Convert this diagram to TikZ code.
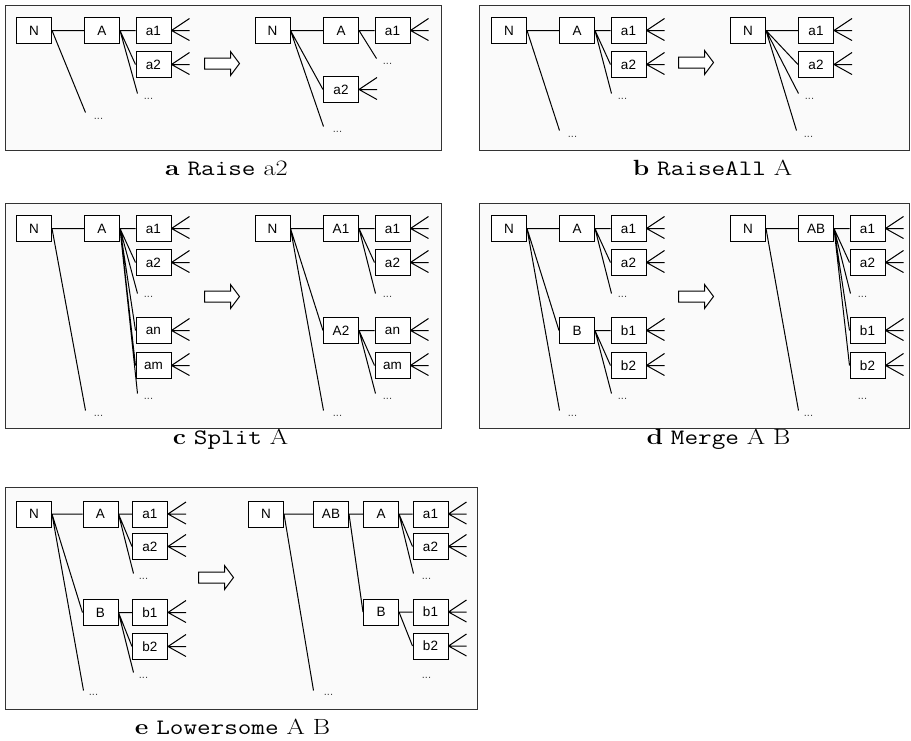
\documentclass[tikz,border=0pt]{standalone}
\usepackage{fontspec}
\newfontfamily\helv{Liberation Sans}
\tikzset{
  panel/.style={draw=black!80, line width=1.5pt, fill=black!2},
  tbox/.style={draw, line width=1pt, fill=white, minimum width=35pt,
    minimum height=26pt, inner sep=0pt, font=\helv\fontsize{13.5}{16}\selectfont},
  ln/.style={line width=1pt},
  dots/.style={font=\helv\fontsize{11}{12}\selectfont, text=black!75, inner sep=0pt},
  captext/.style={anchor=base, inner sep=0pt, font=\fontsize{22}{26}\selectfont},
  bigarrow/.pic={\draw[line width=1pt, fill=white]
    (0,-5.5) -- (26,-5.5) -- (26,-12) -- (35,0) -- (26,12) -- (26,5.5) -- (0,5.5) -- cycle;}
}
% three open edges leaving a box to the right
\newcommand\fanout[1]{\draw[ln] (#1.east) -- ++(18,-12) (#1.east) -- ++(18,0) (#1.east) -- ++(18,10);}
\newcommand\capt[1]{\scalebox{1.2}[1]{#1}}
\begin{document}
\begin{tikzpicture}[x=1pt, y=-1pt]
\useasboundingbox (0,0) rectangle (911,740);
\begin{scope}[shift={(0.5,0.5)}]

% ---------- frames ----------
\draw[panel] (5,5) rectangle (441,150);
\draw[panel] (479,5) rectangle (909,150);
\draw[panel] (5,203) rectangle (441,428);
\draw[panel] (479,203) rectangle (909,428);
\draw[panel] (5,487) rectangle (477,709);

% ---------- (a) Raise a2 ----------
\node[tbox] (aLN) at (33.5,30) {N};
\node[tbox] (aLA) at (101.5,30) {A};
\node[tbox] (aLa1) at (153,30) {a1};
\node[tbox] (aLa2) at (153,64) {a2};
\coordinate (aLAe) at (137,93); \node[dots] (aLAd) at (148,98) {...};
\coordinate (aLNe) at (85,112); \node[dots] (aLNd) at (98,118) {...};
\draw[ln] (aLN.east) -- (aLA.west) (aLN.east) -- (aLNe);
\draw[ln] (aLA.east) -- (aLa1.west) (aLA.east) -- (aLa2.west) (aLA.east) -- (aLAe);
\fanout{aLa1} \fanout{aLa2}
\pic at (204,63) {bigarrow};
\node[tbox] (aRN) at (272,30) {N};
\node[tbox] (aRA) at (340.5,30) {A};
\node[tbox] (aRa1) at (392,30) {a1};
\node[tbox] (aRa2) at (340.5,89) {a2};
\coordinate (aRAe) at (376,58); \node[dots] (aRAd) at (387,63) {...};
\coordinate (aRNe) at (323,126); \node[dots] (aRNd) at (337,131) {...};
\draw[ln] (aRN.east) -- (aRA.west) (aRN.east) -- (aRa2.west) (aRN.east) -- (aRNe);
\draw[ln] (aRA.east) -- (aRa1.west) (aRA.east) -- (aRAe);
\fanout{aRa1} \fanout{aRa2}
\node[captext] (capa) at (226,175) {\capt{\textbf{a} \texttt{Raise} a2}};

% ---------- (b) RaiseAll A ----------
\node[tbox] (bLN) at (508.5,30) {N};
\node[tbox] (bLA) at (576.5,30) {A};
\node[tbox] (bLa1) at (628,30) {a1};
\node[tbox] (bLa2) at (628,64) {a2};
\coordinate (bLAe) at (611,93); \node[dots] (bLAd) at (622,98) {...};
\coordinate (bLNe) at (559,130); \node[dots] (bLNd) at (572,136) {...};
\draw[ln] (bLN.east) -- (bLA.west) (bLN.east) -- (bLNe);
\draw[ln] (bLA.east) -- (bLa1.west) (bLA.east) -- (bLa2.west) (bLA.east) -- (bLAe);
\fanout{bLa1} \fanout{bLa2}
\pic at (678,62) {bigarrow};
\node[tbox] (bRN) at (747.5,30) {N};
\node[tbox] (bRa1) at (815.5,30) {a1};
\node[tbox] (bRa2) at (815.5,64) {a2};
\coordinate (bRe1) at (798,93); \node[dots] (bRd1) at (809,98) {...};
\coordinate (bRe2) at (796,130); \node[dots] (bRd2) at (808,136) {...};
\draw[ln] (bRN.east) -- (bRa1.west) (bRN.east) -- (bRa2.west)
  (bRN.east) -- (bRe1) (bRN.east) -- (bRe2);
\fanout{bRa1} \fanout{bRa2}
\node[captext] (capb) at (712,175) {\capt{\textbf{b} \texttt{RaiseAll} A}};

% ---------- (c) Split A ----------
\node[tbox] (cLN) at (33.5,228) {N};
\node[tbox] (cLA) at (101.5,228) {A};
\node[tbox] (cLa1) at (153,228) {a1};
\node[tbox] (cLa2) at (153,262) {a2};
\node[tbox] (cLan) at (153,330) {an};
\node[tbox] (cLam) at (153,365) {am};
\coordinate (cLe1) at (137,293); \node[dots] (cLd1) at (148,296) {...};
\coordinate (cLe2) at (137,393); \node[dots] (cLd2) at (148,398) {...};
\coordinate (cLNe) at (85,410); \node[dots] (cLNd) at (98,415) {...};
\draw[ln] (cLN.east) -- (cLA.west) (cLN.east) -- (cLNe);
\draw[ln] (cLA.east) -- (cLa1.west) (cLA.east) -- (cLa2.west) (cLA.east) -- (cLe1)
  (cLA.east) -- (cLan.west) (cLA.east) -- (cLam.west) (cLA.east) -- (cLe2);
\fanout{cLa1} \fanout{cLa2} \fanout{cLan} \fanout{cLam}
\pic at (204,296) {bigarrow};
\node[tbox] (cRN) at (272,228) {N};
\node[tbox] (cRA1) at (340.5,228) {A1};
\node[tbox] (cRA2) at (340.5,330) {A2};
\node[tbox] (cRa1) at (392,228) {a1};
\node[tbox] (cRa2) at (392,262) {a2};
\node[tbox] (cRan) at (392,330) {an};
\node[tbox] (cRam) at (392,365) {am};
\coordinate (cRe1) at (375,293); \node[dots] (cRd1) at (387,296) {...};
\coordinate (cRe2) at (375,393); \node[dots] (cRd2) at (387,398) {...};
\coordinate (cRNe) at (323,410); \node[dots] (cRNd) at (337,415) {...};
\draw[ln] (cRN.east) -- (cRA1.west) (cRN.east) -- (cRA2.west) (cRN.east) -- (cRNe);
\draw[ln] (cRA1.east) -- (cRa1.west) (cRA1.east) -- (cRa2.west) (cRA1.east) -- (cRe1);
\draw[ln] (cRA2.east) -- (cRan.west) (cRA2.east) -- (cRam.west) (cRA2.east) -- (cRe2);
\fanout{cRa1} \fanout{cRa2} \fanout{cRan} \fanout{cRam}
\node[captext] (capc) at (230,444) {\capt{\textbf{c} \texttt{Split} A}};

% ---------- (d) Merge A B ----------
\node[tbox] (dLN) at (508.5,228) {N};
\node[tbox] (dLA) at (576.5,228) {A};
\node[tbox] (dLB) at (576.5,330) {B};
\node[tbox] (dLa1) at (628,228) {a1};
\node[tbox] (dLa2) at (628,262) {a2};
\node[tbox] (dLb1) at (628,330) {b1};
\node[tbox] (dLb2) at (628,365) {b2};
\coordinate (dLe1) at (611,293); \node[dots] (dLd1) at (622,296) {...};
\coordinate (dLe2) at (611,393); \node[dots] (dLd2) at (622,398) {...};
\coordinate (dLNe) at (559,410); \node[dots] (dLNd) at (572,415) {...};
\draw[ln] (dLN.east) -- (dLA.west) (dLN.east) -- (dLB.west) (dLN.east) -- (dLNe);
\draw[ln] (dLA.east) -- (dLa1.west) (dLA.east) -- (dLa2.west) (dLA.east) -- (dLe1);
\draw[ln] (dLB.east) -- (dLb1.west) (dLB.east) -- (dLb2.west) (dLB.east) -- (dLe2);
\fanout{dLa1} \fanout{dLa2} \fanout{dLb1} \fanout{dLb2}
\pic at (678,296) {bigarrow};
\node[tbox] (dRN) at (747.5,228) {N};
\node[tbox] (dRAB) at (815.5,228) {AB};
\node[tbox] (dRa1) at (867,228) {a1};
\node[tbox] (dRa2) at (867,262) {a2};
\node[tbox] (dRb1) at (867,330) {b1};
\node[tbox] (dRb2) at (867,365) {b2};
\coordinate (dRe1) at (850,293); \node[dots] (dRd1) at (862,296) {...};
\node[dots] (dRd2) at (862,398) {...};
\coordinate (dRNe) at (798,410); \node[dots] (dRNd) at (808,415) {...};
\draw[ln] (dRN.east) -- (dRAB.west) (dRN.east) -- (dRNe);
\draw[ln] (dRAB.east) -- (dRa1.west) (dRAB.east) -- (dRa2.west) (dRAB.east) -- (dRe1)
  (dRAB.east) -- (dRb1.west) (dRAB.east) -- (dRb2.west);
\fanout{dRa1} \fanout{dRa2} \fanout{dRb1} \fanout{dRb2}
\node[captext] (capd) at (718,444) {\capt{\textbf{d} \texttt{Merge} A B}};

% ---------- (e) Lowersome A B ----------
\node[tbox] (eLN) at (33.5,513.5) {N};
\node[tbox] (eLA) at (100,513.5) {A};
\node[tbox] (eLB) at (100,612) {B};
\node[tbox] (eLa1) at (149.5,513.5) {a1};
\node[tbox] (eLa2) at (149.5,546) {a2};
\node[tbox] (eLb1) at (149.5,612) {b1};
\node[tbox] (eLb2) at (149.5,646) {b2};
\coordinate (eLe1) at (133,573); \node[dots] (eLd1) at (143,578) {...};
\coordinate (eLe2) at (133,672); \node[dots] (eLd2) at (143,677) {...};
\coordinate (eLNe) at (83,690); \node[dots] (eLNd) at (93,694) {...};
\draw[ln] (eLN.east) -- (eLA.west) (eLN.east) -- (eLB.west) (eLN.east) -- (eLNe);
\draw[ln] (eLA.east) -- (eLa1.west) (eLA.east) -- (eLa2.west) (eLA.east) -- (eLe1);
\draw[ln] (eLB.east) -- (eLb1.west) (eLB.east) -- (eLb2.west) (eLB.east) -- (eLe2);
\fanout{eLa1} \fanout{eLa2} \fanout{eLb1} \fanout{eLb2}
\pic at (198,577) {bigarrow};
\node[tbox] (eRN) at (265.5,513.5) {N};
\node[tbox] (eRAB) at (330.5,513.5) {AB};
\node[tbox] (eRA) at (380.5,513.5) {A};
\node[tbox] (eRB) at (380.5,611.5) {B};
\node[tbox] (eRa1) at (430,513.5) {a1};
\node[tbox] (eRa2) at (430,546) {a2};
\node[tbox] (eRb1) at (430,611.5) {b1};
\node[tbox] (eRb2) at (430,645.5) {b2};
\coordinate (eRe1) at (413,573); \node[dots] (eRd1) at (426,578) {...};
\node[dots] (eRd2) at (426,677) {...};
\coordinate (eRNe) at (313,690); \node[dots] (eRNd) at (328,694) {...};
\draw[ln] (eRN.east) -- (eRAB.west) (eRN.east) -- (eRNe);
\draw[ln] (eRAB.east) -- (eRA.west) (eRAB.east) -- (eRB.west);
\draw[ln] (eRA.east) -- (eRa1.west) (eRA.east) -- (eRa2.west) (eRA.east) -- (eRe1);
\draw[ln] (eRB.east) -- (eRb1.west) (eRB.east) -- (eRb2.west);
\fanout{eRa1} \fanout{eRa2} \fanout{eRb1} \fanout{eRb2}
\node[captext] (cape) at (232,734) {\capt{\textbf{e} \texttt{Lowersome} A B}};
\end{scope}
\end{tikzpicture}
\end{document}
